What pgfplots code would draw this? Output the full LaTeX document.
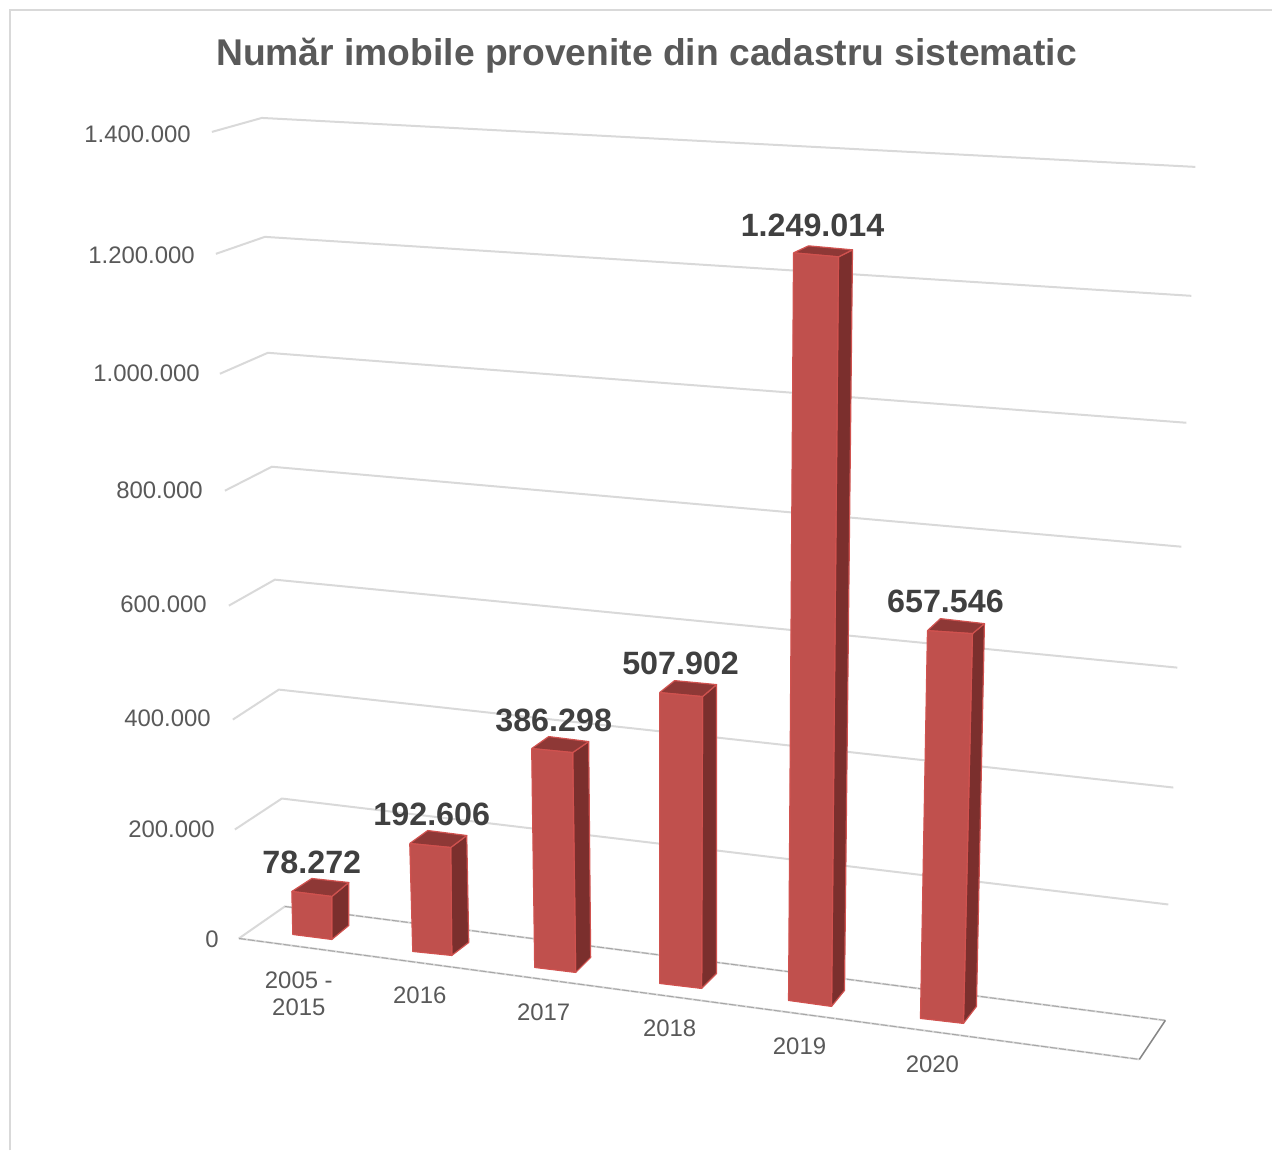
\documentclass[border=0pt]{standalone}
\usepackage{fontspec}
\setmainfont{Liberation Sans}
\usepackage{pgfplots}
\pgfplotsset{compat=1.18}

\definecolor{grid}{HTML}{D9D9D9}
\definecolor{floordash}{HTML}{A6A6A6}
\definecolor{floorend}{HTML}{868686}
\definecolor{front}{HTML}{C0504D}
\definecolor{side}{HTML}{7B2F2D}
\definecolor{topface}{HTML}{8E3836}
\definecolor{edge}{HTML}{D0524F}
\definecolor{ticktext}{HTML}{595959}
\definecolor{valuetext}{HTML}{404040}

\pgfplotsset{
    gridline/.style={color=grid, line width=2bp},
    frontface/.style={fill=front, draw=edge, line width=1.2bp, line join=round},
    sideface/.style={fill=side, draw=edge, line width=1.2bp, line join=round},
    topf/.style={fill=topface, draw=edge, line width=1.2bp, line join=round},
    textrow/.style={draw=none, nodes near coords, point meta=explicit symbolic},
}

\begin{document}
\begin{tikzpicture}
    % picture coordinates: the chart is a perspective drawing, so everything is read off in px
    \begin{axis}[
            width=1273bp, height=1151bp, scale only axis,
            xmin=0, xmax=1273,
            ymin=0, ymax=1151,
            y dir=reverse,
            hide axis,
            no markers,
            clip=false,
        ]

        % hide axis leaves the page to the content, so span the whole page
        \addplot[draw=none] coordinates {(0,0) (1273,1151)};

        % chart frame
        \addplot[color=grid, line width=1.5bp] coordinates {(10,1151) (10,10) (1273,10)};

        % walls, one polyline for each 200.000
        \addplot[gridline] coordinates {(212,132) (262,118) (1196,167)};
        \addplot[gridline] coordinates {(216,254) (265,237) (1192,296)};
        \addplot[gridline] coordinates {(220,374) (268,353) (1187,423)};
        \addplot[gridline] coordinates {(225,491) (272,467) (1182,547)};
        \addplot[gridline] coordinates {(229,606) (275,580) (1178,668)};
        \addplot[gridline] coordinates {(233,720) (279,690) (1174,788)};
        \addplot[gridline] coordinates {(235,830) (282,799) (1169,905)};

        % floor
        \addplot[gridline] coordinates {(239,939) (285,907) (1166,1021)};
        \addplot[gridline] coordinates {(239,939) (1140,1060)};
        \addplot[color=floordash, line width=1bp, dash pattern=on 7bp off 2bp] coordinates {(285,907) (1166,1021)};
        \addplot[color=floordash, line width=1bp, dash pattern=on 7bp off 2bp] coordinates {(239,939) (1140,1060)};
        \addplot[color=floorend, line width=1.5bp] coordinates {(1166,1021) (1140,1060)};

        % 2005-2015: 78.272
        \addplot[sideface] coordinates {(332,897) (349,883) (349,926) (332,940) (332,897)};
        \addplot[topf] coordinates {(292,892) (312,879) (349,883) (332,897) (292,892)};
        \addplot[frontface] coordinates {(292,892) (332,897) (332,940) (293,935) (292,892)};

        % 2016: 192.606
        \addplot[sideface] coordinates {(451,848) (467,836) (469,943) (452,956) (451,848)};
        \addplot[topf] coordinates {(410,844) (428,831) (467,836) (451,848) (410,844)};
        \addplot[frontface] coordinates {(410,844) (451,848) (452,956) (413,952) (410,844)};

        % 2017: 386.298
        \addplot[sideface] coordinates {(573,753) (589,742) (591,958) (576,973) (573,753)};
        \addplot[topf] coordinates {(532,749) (549,737) (589,742) (573,753) (532,749)};
        \addplot[frontface] coordinates {(532,749) (573,753) (576,973) (535,968) (532,749)};

        % 2018: 507.902
        \addplot[sideface] coordinates {(703,697) (717,685) (717,974) (702,989) (703,697)};
        \addplot[topf] coordinates {(660,693) (675,681) (717,685) (703,697) (660,693)};
        \addplot[frontface] coordinates {(660,693) (703,697) (702,989) (660,984) (660,693)};

        % 2019: 1.249.014
        \addplot[sideface] coordinates {(839,257) (853,250) (845,991) (832,1007) (839,257)};
        \addplot[topf] coordinates {(794,253) (809,246) (853,250) (839,257) (794,253)};
        \addplot[frontface] coordinates {(794,253) (839,257) (832,1007) (789,1001) (794,253)};

        % 2020: 657.546
        \addplot[sideface] coordinates {(973,634) (985,624) (977,1007) (964,1024) (973,634)};
        \addplot[topf] coordinates {(928,631) (941,619) (985,624) (973,634) (928,631)};
        \addplot[frontface] coordinates {(928,631) (973,634) (964,1024) (921,1019) (928,631)};

        % tick labels of the value axis
        \addplot[textrow, nodes near coords style={anchor=east, inner sep=0pt, font=\fontsize{24}{24}\selectfont, text=ticktext}]
        table[meta=label] {
            x y label
            191 134 1.400.000
            195 255 1.200.000
            200 373 1.000.000
            203 491 800.000
            207 605 600.000
            211 719 400.000
            215 830 200.000
            219 940 0
        };

        % category labels
        \addplot[textrow, nodes near coords style={anchor=center, inner sep=0pt, font=\fontsize{24}{24}\selectfont, text=ticktext}]
        table[meta=label] {
            x y label
            299 981 {2005 -}
            299 1008 2015
            420 996 2016
            544 1013 2017
            670 1029 2018
            800 1047 2019
            933 1065 2020
        };

        % value labels
        \addplot[textrow, nodes near coords style={anchor=center, inner sep=0pt, font=\fontsize{32.4}{32.4}\selectfont\bfseries, text=valuetext}]
        table[meta=label] {
            x y label
            312 863 78.272
            432 815 192.606
            554 721 386.298
            681 664 507.902
            813 226 1.249.014
            946 602 657.546
        };

        % title
        \addplot[textrow, nodes near coords style={anchor=center, inner sep=0pt, font=\fontsize{37.4}{37.4}\selectfont\bfseries, text=ticktext}]
        table[meta=label] {
            x y label
            647 55.5 {Număr imobile provenite din cadastru sistematic}
        };
    \end{axis}
\end{tikzpicture}
\end{document}
